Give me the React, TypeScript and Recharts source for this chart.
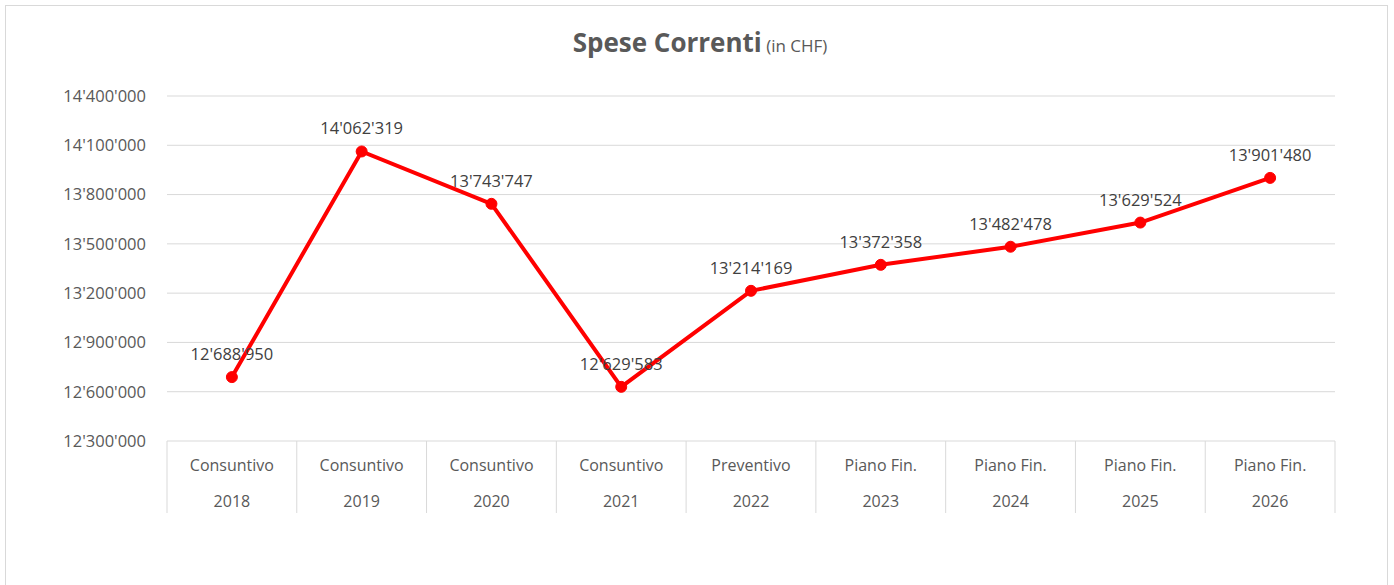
import { CartesianGrid, LabelList, Line, LineChart, XAxis, YAxis } from 'recharts';

// Spese correnti del comune (CHF), consuntivi + preventivo + piano finanziario.

const PHASES = [
  'Consuntivo',
  'Consuntivo',
  'Consuntivo',
  'Consuntivo',
  'Preventivo',
  'Piano Fin.',
  'Piano Fin.',
  'Piano Fin.',
  'Piano Fin.',
];
const YEARS = ['2018', '2019', '2020', '2021', '2022', '2023', '2024', '2025', '2026'];
const SPESE = [12688950, 14062319, 13743747, 12629583, 13214169, 13372358, 13482478, 13629524, 13901480];
const Y_TICKS = [12300000, 12600000, 12900000, 13200000, 13500000, 13800000, 14100000, 14400000];

const data = YEARS.map((year, i) => ({ key: `${PHASES[i]} ${year}`, phase: PHASES[i], year, value: SPESE[i] }));

const FONT = '"Open Sans", sans-serif';
const GRID = '#d9d9d9';
const PLOT_W = 1168;
const BAND = PLOT_W / data.length;

// swiss style thousands separator
const chf = (n: number) => String(Math.round(n)).replace(/\B(?=(\d{3})+(?!\d))/g, "'");

function CategoryTick(props: any) {
  const { x, y, index } = props;
  const top = y;
  const d = data[index];
  return (
    <g>
      <line x1={x - BAND / 2} x2={x - BAND / 2} y1={top} y2={top + 72} stroke={GRID} />
      {index === data.length - 1 && (
        <line x1={x + BAND / 2} x2={x + BAND / 2} y1={top} y2={top + 72} stroke={GRID} />
      )}
      <text x={x} y={top + 30} textAnchor="middle" fill="#595959" fontSize={16} fontFamily={FONT}>
        {d.phase}
      </text>
      <text x={x} y={top + 66} textAnchor="middle" fill="#595959" fontSize={16} fontFamily={FONT}>
        {d.year}
      </text>
    </g>
  );
}

export default function App() {
  return (
    <div style={{ position: 'absolute', left: 0, top: 0, width: 1394, height: 585, overflow: 'hidden', background: '#fff' }}>
      <div
        style={{
          position: 'absolute',
          left: 5,
          top: 5,
          width: 1383,
          height: 600,
          border: `1px solid ${GRID}`,
          boxSizing: 'border-box',
        }}
      />
      <div
        style={{
          position: 'absolute',
          left: 0,
          top: 24,
          width: 1400,
          textAlign: 'center',
          fontFamily: FONT,
          color: '#595959',
          whiteSpace: 'nowrap',
        }}
      >
        <span style={{ fontSize: 26, fontWeight: 700 }}>Spese Correnti</span>
        <span style={{ fontSize: 17 }}> (in CHF)</span>
      </div>
      <div style={{ position: 'absolute', left: 0, top: 0 }}>
        <LineChart width={1394} height={585} data={data} margin={{ top: 96, right: 59, bottom: 64, left: 67 }}>
          <CartesianGrid vertical={false} stroke={GRID} strokeDasharray="" />
          <XAxis
            dataKey="key"
            interval={0}
            axisLine={false}
            tickLine={false}
            tickSize={0}
            tickMargin={0}
            height={80}
            padding={{ left: BAND / 2, right: BAND / 2 }}
            tick={<CategoryTick />}
          />
          <YAxis
            width={100}
            domain={[12300000, 14400000]}
            ticks={Y_TICKS}
            axisLine={false}
            tickLine={false}
            tickMargin={15}
            tickFormatter={(v) => chf(Number(v))}
            tick={{ fill: '#595959', fontSize: 16.5, fontFamily: FONT }}
          />
          <Line
            type="linear"
            dataKey="value"
            stroke="#ff0000"
            strokeWidth={4}
            dot={{ r: 5.5, fill: '#ff0000', stroke: '#ff0000', strokeWidth: 1 }}
            isAnimationActive={false}
          >
            <LabelList
              dataKey="value"
              position="top"
              offset={17}
              formatter={(v: any) => chf(Number(v))}
              style={{ fill: '#404040', fontSize: 16.5, fontFamily: FONT }}
            />
          </Line>
        </LineChart>
      </div>
    </div>
  );
}
